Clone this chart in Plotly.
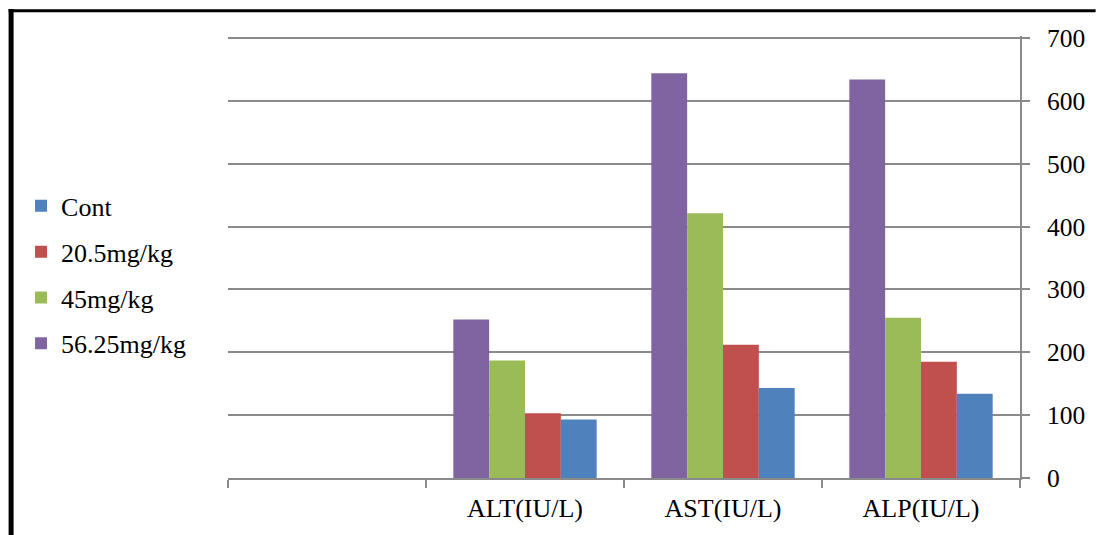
import plotly.graph_objects as go

# Liver enzyme levels by dose group
categories = [" ", "ALT(IU/L)", "AST(IU/L)", "ALP(IU/L)"]
series_names = ["56.25mg/kg", "45mg/kg", "20.5mg/kg", "Cont"]
values_56 = [None, 252, 644, 634]
values_45 = [None, 187, 421, 255]
values_20 = [None, 103, 212, 185]
values_cont = [None, 93, 143, 134]
series_values = [values_56, values_45, values_20, values_cont]
colors = ["#8064A2", "#9BBB59", "#C0504D", "#4F81BD"]
legend_ranks = [4, 3, 2, 1]
y_ticks = [0, 100, 200, 300, 400, 500, 600, 700]

W, H = 1097, 535
ML, MR, MT, MB = 228, 73, 36, 56
PW, PH = W - ML - MR, H - MT - MB
Y_MAX = PH / 0.63  # leaves a little headroom so the 700 gridline is drawn


def px_x(px):
    return (px - ML) / PW


def px_y(py):
    return (H - MB - py) / PH


serif = "Liberation Serif"

fig = go.Figure()
for name, vals, col, rank in zip(series_names, series_values, colors, legend_ranks):
    fig.add_trace(go.Bar(
        x=categories, y=vals, name=name, legendgroup=name, legendrank=rank,
        marker=dict(color=col, line=dict(width=0)),
    ))

grid_col = "#8a8a8a"

fig.update_layout(
    width=W, height=H,
    margin=dict(l=ML, r=MR, t=MT, b=MB),
    paper_bgcolor="white", plot_bgcolor="white",
    barmode="group", bargap=0.276, bargroupgap=0,
    font=dict(family=serif, size=26, color="black"),
    showlegend=True,
    legend=dict(
        x=px_x(20), xanchor="left", y=px_y(275.5), yanchor="middle",
        tracegroupgap=9,
        font=dict(family=serif, size=26, color="black"),
        bgcolor="rgba(0,0,0,0)",
    ),
    xaxis=dict(
        type="category", categoryorder="array", categoryarray=categories,
        range=[-0.5, 3.5], tickson="boundaries", ticks="outside",
        ticklen=8, tickwidth=2, tickcolor=grid_col,
        showline=True, linecolor=grid_col, linewidth=2,
        showgrid=False, fixedrange=True, ticklabelstandoff=6,
        tickfont=dict(family=serif, size=26, color="black"),
    ),
    yaxis=dict(
        side="right", range=[0, Y_MAX], tickvals=y_ticks,
        ticks="outside", ticklen=8, tickwidth=2, tickcolor=grid_col,
        showline=True, linecolor=grid_col, linewidth=2,
        showgrid=True, gridcolor=grid_col, gridwidth=2,
        zeroline=False, ticklabelstandoff=12,
        tickfont=dict(family=serif, size=25.5, color="black"),
    ),
)

# Black frame along the left and top edges
fig.add_shape(type="line", xref="paper", yref="paper",
              x0=px_x(10), x1=px_x(10), y0=px_y(9), y1=px_y(540),
              line=dict(color="black", width=5))
fig.add_shape(type="line", xref="paper", yref="paper",
              x0=px_x(7.5), x1=px_x(1100), y0=px_y(10.8), y1=px_y(10.8),
              line=dict(color="black", width=3))

fig.write_html("out.html")
